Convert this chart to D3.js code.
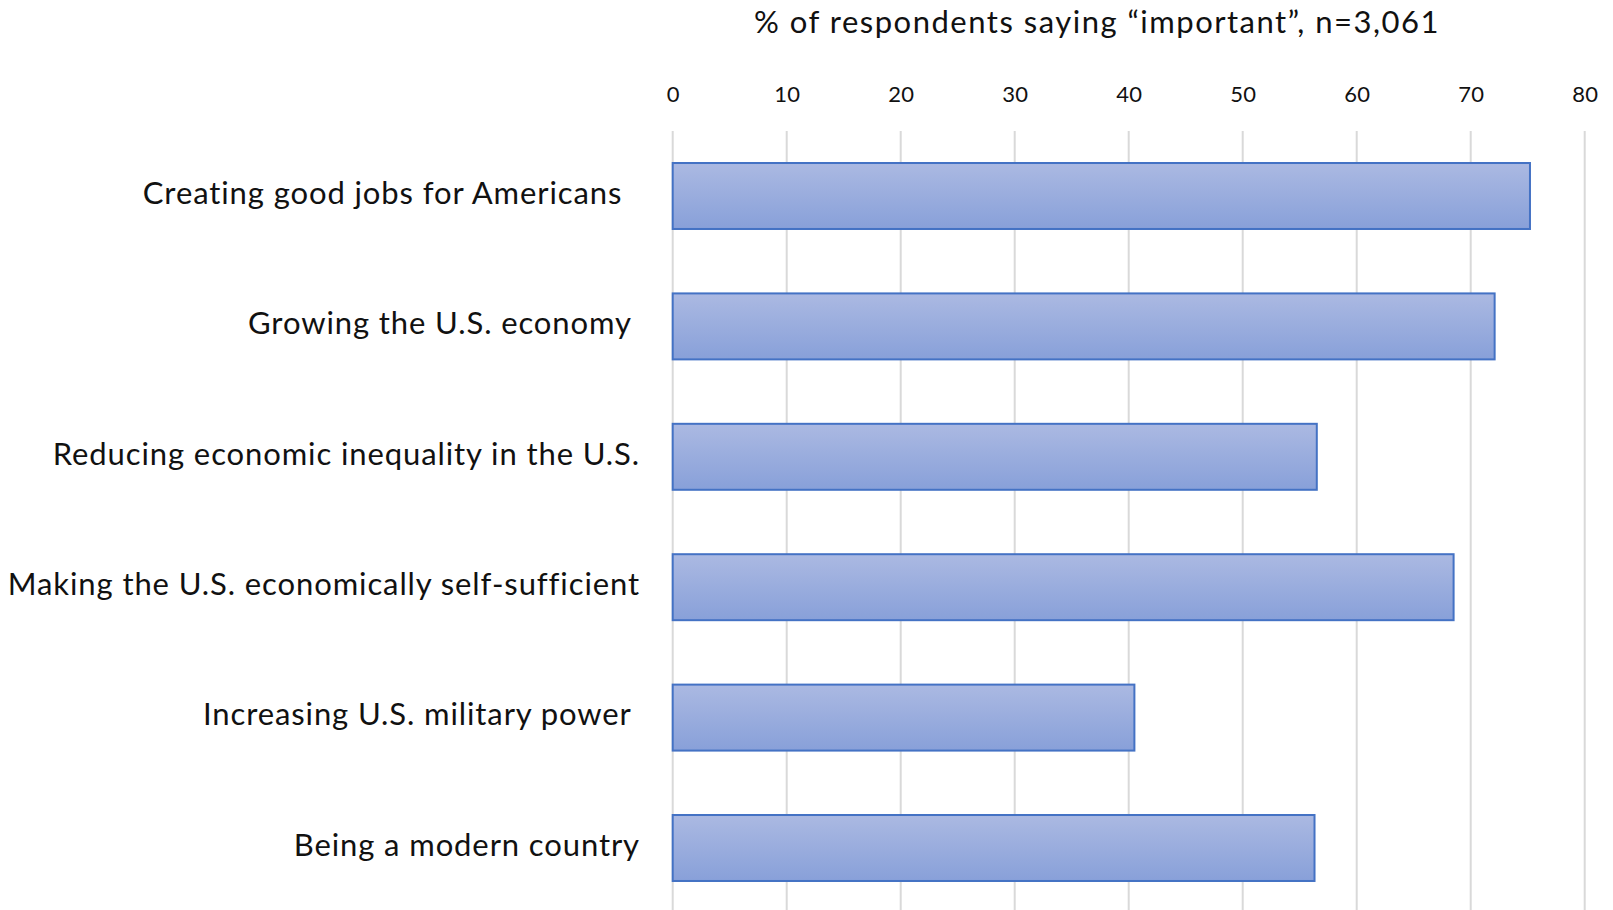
<!DOCTYPE html>
<html>
<head>
<meta charset="utf-8">
<script src="https://cdn.jsdelivr.net/npm/d3@7"></script>
<style>
  html, body { margin: 0; padding: 0; background: #ffffff; }
  svg text { font-family: Lato, "Open Sans", sans-serif; fill: #111111; white-space: pre; }
</style>
</head>
<body>
<div id="chart"></div>
<script>
// chart values
const categories = [
  'Creating good jobs for Americans  ',
  'Growing the U.S. economy ',
  'Reducing economic inequality in the U.S.',
  'Making the U.S. economically self-sufficient',
  'Increasing U.S. military power ',
  'Being a modern country'
];
const importantPct = [75.2, 72.1, 56.5, 68.5, 40.5, 56.3];
const xTicks = [0, 10, 20, 30, 40, 50, 60, 70, 80];
const titleText = '% of respondents saying \u201cimportant\u201d, n=3,061';

const width = 1613, height = 910;
const plot = { left: 672.7, right: 1584.7, top: 130.8, bottom: 913.2 };

const data = categories.map((c, i) => ({ label: c, value: importantPct[i] }));

const svg = d3.select('#chart')
  .append('svg')
  .attr('width', width)
  .attr('height', height);

const defs = svg.append('defs');
const grad = defs.append('linearGradient')
  .attr('id', 'barFill')
  .attr('x1', 0).attr('y1', 0).attr('x2', 0).attr('y2', 1);
grad.append('stop').attr('offset', '0%').attr('stop-color', '#abb9e2');
grad.append('stop').attr('offset', '100%').attr('stop-color', '#88a0d9');

const xScale = d3.scaleLinear()
  .domain([0, 80])
  .range([plot.left, plot.right]);

const yScale = d3.scaleBand()
  .domain(categories)
  .range([plot.top, plot.bottom])
  .paddingInner(0.494)
  .paddingOuter(0.247);

// gridlines
svg.append('g')
  .selectAll('line')
  .data(xTicks)
  .enter()
  .append('line')
    .attr('x1', d => xScale(d))
    .attr('x2', d => xScale(d))
    .attr('y1', 131)
    .attr('y2', height)
    .attr('stroke', '#d9d9d9')
    .attr('stroke-width', 2);

// top axis labels
const xAxis = svg.append('g')
  .attr('transform', 'translate(0, 102)')
  .call(d3.axisTop(xScale).tickValues(xTicks).tickSize(0).tickPadding(0));
xAxis.select('.domain').remove();
xAxis.selectAll('text')
  .attr('font-size', '22px')
  .attr('font-family', 'Lato, "Open Sans", sans-serif')
  .attr('letter-spacing', '0.3px')
  .attr('fill', '#111111');

// title
svg.append('text')
  .attr('x', 1097)
  .attr('y', 33)
  .attr('text-anchor', 'middle')
  .attr('font-size', '31px')
  .attr('letter-spacing', '1.5px')
  .text(titleText);

// bars
svg.selectAll('.bar')
  .data(data)
  .enter()
  .append('rect')
    .attr('class', 'bar')
    .attr('x', xScale(0))
    .attr('y', d => yScale(d.label))
    .attr('width', d => xScale(d.value) - xScale(0))
    .attr('height', yScale.bandwidth())
    .attr('fill', 'url(#barFill)')
    .attr('stroke', '#4472c4')
    .attr('stroke-width', 2);

// category labels
svg.selectAll('.cat')
  .data(data)
  .enter()
  .append('text')
    .attr('class', 'cat')
    .attr('x', 640)
    .attr('y', d => yScale(d.label) + yScale.bandwidth() / 2)
    .attr('text-anchor', 'end')
    .attr('dominant-baseline', 'middle')
    .attr('font-size', '31px')
    .attr('letter-spacing', '0.9px')
    .text(d => d.label);
</script>
</body>
</html>
